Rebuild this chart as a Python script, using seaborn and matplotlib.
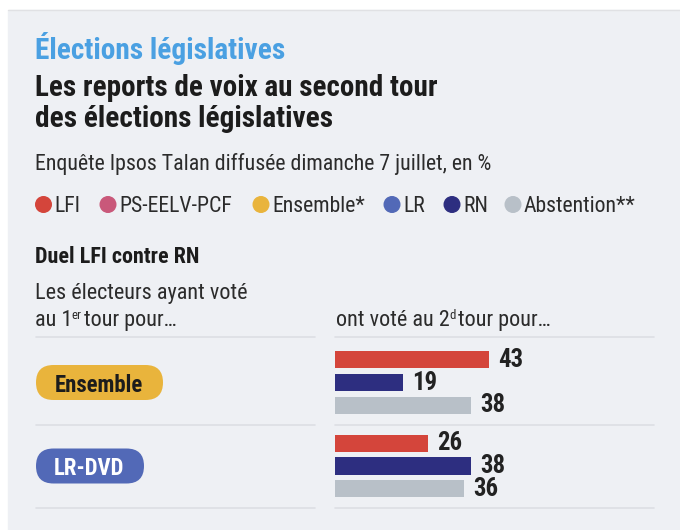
import os
import matplotlib
matplotlib.use("Agg")
import matplotlib.pyplot as plt
from matplotlib import font_manager as fm
from matplotlib.patches import FancyBboxPatch, Rectangle, Circle
import seaborn as sns
import pandas as pd

# données (en %)
groupes = ["Ensemble", "LR-DVD"]
votes = ["LFI", "RN", "Abstention"]
lfi = [43, 26]
rn = [19, 38]
abstention = [38, 36]

legende = ["LFI", "PS-EELV-PCF", "Ensemble*", "LR", "RN", "Abstention**"]
couleurs_legende = ["#d4453b", "#c9587a", "#e9b43c", "#5269b7", "#2d2e80", "#b8c0c8"]
palette = {"LFI": "#d4453b", "RN": "#2d2e80", "Abstention": "#b8c0c8"}
pastilles = {"Ensemble": ("#e9b43c", "#1c1c1c"), "LR-DVD": ("#5269b7", "#ffffff")}

titre_rubrique = "Élections législatives"
titre = ["Les reports de voix au second tour", "des élections législatives"]
sous_titre = "Enquête Ipsos Talan diffusée dimanche 7 juillet, en %"
duel = "Duel LFI contre RN"

sns.set_style("white")


def trouver(noms):
    for nom in noms:
        for f in fm.fontManager.ttflist:
            if os.path.basename(f.fname).lower() == nom.lower():
                return fm.FontProperties(fname=f.fname)
    return None


reg = trouver(["LiberationSansNarrow-Regular.ttf", "RobotoCondensed-Regular.ttf",
               "DejaVuSansCondensed.ttf"]) or fm.FontProperties(family="Roboto")
gras = trouver(["LiberationSansNarrow-Bold.ttf", "RobotoCondensed-Bold.ttf",
                "DejaVuSansCondensed-Bold.ttf"]) or fm.FontProperties(family="Roboto", weight="bold")

fig = plt.figure(figsize=(6.8, 5.3), dpi=100, facecolor="white")
bg = fig.add_axes([0, 0, 1, 1], zorder=0)
bg.set_xlim(0, 680)
bg.set_ylim(530, 0)
bg.axis("off")
rend = fig.canvas.get_renderer()

bg.add_patch(Rectangle((8, 10), 672, 520, color="#eef0f4", zorder=0))
bg.plot([8, 680], [10, 10], color="#e0e1e4", lw=1, zorder=1)


def taille_pour(s, fp, largeur):
    f = fp.copy()
    f.set_size(20)
    t = bg.text(0, 0, s, fontproperties=f)
    w = t.get_window_extent(rend).width
    t.remove()
    return 20 * largeur / w


def ecrire(x, y, s, fp, taille, couleur, **kw):
    f = fp.copy()
    f.set_size(taille)
    return bg.text(x, y, s, fontproperties=f, color=couleur, zorder=3, **kw)


def largeur(t):
    return t.get_window_extent(rend).width


# en-tête
ecrire(35, 59, titre_rubrique, gras, taille_pour(titre_rubrique, gras, 250), "#4aa0e2")
ecrire(35, 96, titre[0], gras, taille_pour(titre[0], gras, 400), "#1c1c1c")
ecrire(35, 127, titre[1], gras, taille_pour(titre[1], gras, 297), "#1c1c1c")
ecrire(35, 170, sous_titre, reg, taille_pour(sous_titre, reg, 457), "#2b2b2b")

# légende
t_leg = taille_pour(legende[-1], reg, 112)
x_points = [43.5, 108, 261, 392, 452, 513]
for nom, c, x in zip(legende, couleurs_legende, x_points):
    bg.add_patch(Circle((x, 204.5), 7.8, color=c, zorder=3))
    ecrire(x + 11, 204.5, nom, reg, t_leg, "#2b2b2b", va="center_baseline")

# sous-section
ecrire(35, 263, duel, gras, taille_pour(duel, gras, 165), "#1c1c1c")
t_txt = taille_pour("Les électeurs ayant voté", reg, 211)
ecrire(35, 299, "Les électeurs ayant voté", reg, t_txt, "#2b2b2b")


def suite(x, y, morceaux):
    for s, echelle, monte, ecart in morceaux:
        x += ecart
        t = ecrire(x, y - monte, s, reg, t_txt * echelle, "#2b2b2b")
        x += largeur(t)


suite(35, 326, [("au 1", 1, 0, 0), ("er", 0.58, 7, -0.5), ("tour pour…", 1, 0, 2.5)])
suite(336, 326, [("ont voté au 2", 1, 0, 0), ("d", 0.58, 7, -0.5), ("tour pour…", 1, 0, 2.5)])

# séparateurs
for y in [337, 425, 508]:
    bg.plot([36, 315], [y, y], color="#dcdfe4", lw=1.2, zorder=2)
    bg.plot([335, 654], [y, y], color="#dcdfe4", lw=1.2, zorder=2)

# pastilles des groupes
centres = [382.5, 466]
largeurs = [127, 108]
for g, yc, w in zip(groupes, centres, largeurs):
    fond, texte = pastilles[g]
    h = 35
    bg.add_patch(FancyBboxPatch((36, yc - h / 2), w, h,
                                boxstyle=f"round,pad=0,rounding_size={h / 2}",
                                fc=fond, ec="none", zorder=3))
    ecrire(36 + w / 2 - 1, yc, g, gras, taille_pour("Ensemble", gras, 88), texte,
           ha="center", va="center_baseline")

# barres
df = pd.DataFrame({
    "groupe": groupes * 3,
    "vote": ["LFI"] * 2 + ["RN"] * 2 + ["Abstention"] * 2,
    "pct": lfi + rn + abstention,
})
ax = fig.add_axes([335 / 680, 22 / 530, 320 / 680, 171 / 530], zorder=2)
sns.barplot(data=df, y="groupe", x="pct", hue="vote", order=groupes, hue_order=votes,
            palette=palette, saturation=1, width=0.826, gap=0.26, orient="h",
            errorbar=None, legend=False, linewidth=0, ax=ax)
ax.set_xlim(0, 320 / 3.59)
ax.set_ylim(1.503, -0.545)
ax.axis("off")
ax.patch.set_alpha(0)

fv = gras.copy()
fv.set_size(taille_pour("43", gras, 25))
for cont in ax.containers:
    ax.bar_label(cont, padding=6.5, fontproperties=fv, color="#222222")

fig.savefig("out.png", dpi=100, facecolor="white")
